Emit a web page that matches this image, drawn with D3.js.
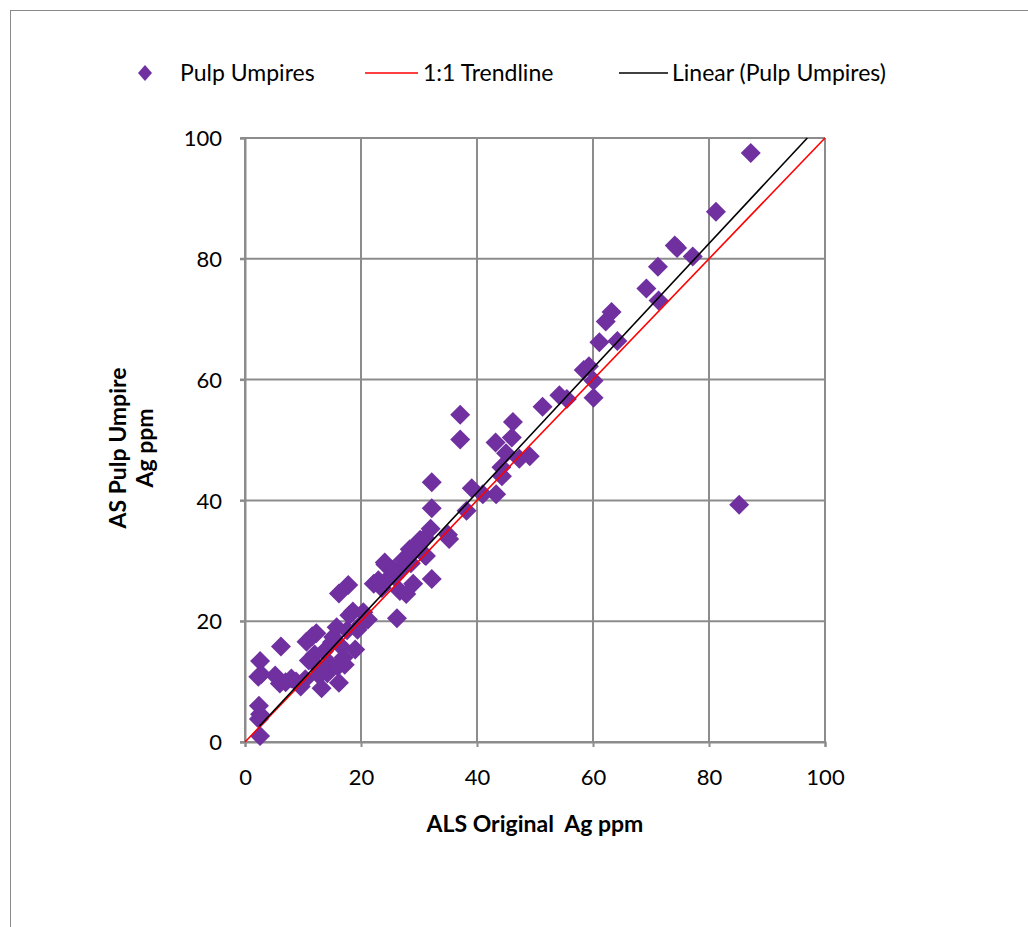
<!DOCTYPE html>
<html>
<head>
<meta charset="utf-8">
<script src="https://cdn.jsdelivr.net/npm/d3@7"></script>
<style>
  body { margin: 0; background: #fff; }
  svg { display: block; font-family: Lato, "Open Sans", sans-serif; }
</style>
</head>
<body>
<div id="chart"></div>
<script>
// ALS original vs pulp umpire Ag ppm
const alsOriginal = [
  2.6, 2.4, 2.6, 2.4, 2.6, 2.3, 2.8, 5.2, 6.2, 6.0, 7.0, 8.0, 8.8, 9.6, 10.4,
  11.0, 10.6, 11.6, 12.3, 12.0, 12.5, 12.8, 13.2, 13.6, 14.2, 14.6, 15.2, 15.8,
  16.0, 16.2, 16.6, 17.0, 17.2, 17.6, 18.0, 18.6, 19.0, 19.4, 20.4, 21.2, 16.2,
  17.8, 22.2, 23.0, 23.6, 24.2, 24.6, 25.2, 25.8, 26.2, 26.7, 27.2, 27.8, 28.0,
  28.6, 29.0, 29.5, 30.2, 31.0, 31.2, 32.0, 32.2, 32.2, 32.2, 35.0, 35.2, 37.1,
  37.1, 38.2, 39.1, 41.0, 43.3, 43.2, 44.2, 44.3, 45.0, 46.0, 46.2, 47.3, 49.1,
  51.3, 54.2, 55.5, 58.4, 59.3, 60.1, 60.1, 61.1, 64.2, 62.2, 63.2, 69.2, 71.3,
  71.2, 74.1, 74.5, 77.2, 81.2, 87.2, 85.2, 24.1, 25.6, 27.3, 28.4, 30.2, 31.0,
  13.0, 15.0, 20.0
];
const pulpUmpire = [
  1.0, 3.8, 4.6, 6.0, 13.4, 10.8, 11.2, 11.0, 15.8, 9.7, 9.9, 10.5, 10.0, 9.2, 10.4,
  13.5, 16.6, 17.5, 18.0, 14.5, 12.5, 11.0, 8.9, 15.0, 11.4, 13.0, 17.4, 19.0,
  12.5, 9.8, 15.8, 14.0, 12.8, 18.5, 21.0, 21.6, 15.3, 18.6, 21.5, 20.3, 24.6,
  26.0, 26.2, 26.8, 25.5, 29.4, 27.0, 28.5, 27.3, 20.5, 25.0, 28.8, 24.5, 30.5,
  29.6, 26.2, 32.0, 33.5, 33.8, 30.8, 35.3, 27.0, 38.7, 43.0, 34.3, 33.6, 54.2,
  50.1, 38.3, 42.0, 41.0, 41.0, 49.6, 45.5, 44.0, 47.8, 50.4, 53.0, 46.9, 47.3,
  55.5, 57.4, 56.8, 61.6, 62.2, 59.8, 57.0, 66.2, 66.4, 69.6, 71.2, 75.1, 73.1,
  78.7, 82.2, 81.8, 80.4, 87.8, 97.5, 39.3, 29.7, 28.6, 30.2, 31.9, 33.3, 30.9,
  11.8, 16.5, 19.5
];
const ticks = [0, 20, 40, 60, 80, 100];
// linear trendline as drawn on the chart
const trendSlope = 1.031;
const trendIntercept = 0.05;
const trendRange = [2.47, 96.95];

const W = 1028, H = 927;
const margin = { left: 245, right: 203, top: 138, bottom: 184 };

const svg = d3.select("#chart").append("svg")
  .attr("width", W).attr("height", H);

// outer chart frame
svg.append("rect")
  .attr("x", 10.5).attr("y", 10.5)
  .attr("width", W + 20).attr("height", H + 20)
  .attr("fill", "none").attr("stroke", "#8a8a8a").attr("stroke-width", 1);

const x = d3.scaleLinear().domain([0, 100]).range([margin.left, W - margin.right]);
const y = d3.scaleLinear().domain([0, 100]).range([H - margin.bottom - 1, margin.top]);

// gridlines
const grid = svg.append("g").attr("stroke", "#8c8c8c").attr("stroke-width", 2);
grid.selectAll(".gx").data(ticks).join("line")
  .attr("x1", d => x(d)).attr("x2", d => x(d))
  .attr("y1", y(0)).attr("y2", y(100));
grid.selectAll(".gy").data(ticks).join("line")
  .attr("x1", x(0) - 5).attr("x2", x(100))
  .attr("y1", d => y(d)).attr("y2", d => y(d));

// axes
const xAxis = svg.append("g")
  .attr("transform", `translate(0,${y(0)})`)
  .call(d3.axisBottom(x).tickValues(ticks).tickSize(5).tickPadding(22));
const yAxis = svg.append("g")
  .attr("transform", `translate(${x(0)},0)`)
  .call(d3.axisLeft(y).tickValues(ticks).tickSize(5).tickPadding(18));
[xAxis, yAxis].forEach(g => {
  g.select(".domain").attr("stroke", "#8c8c8c").attr("stroke-width", 2);
  g.selectAll(".tick line").attr("stroke", "#8c8c8c").attr("stroke-width", 2);
  g.selectAll(".tick text").attr("font-size", 22).attr("fill", "#000")
    .style("font-family", "Lato, 'Open Sans', sans-serif");
});
yAxis.selectAll(".tick text").attr("dy", "0.35em");

const diamond = "M0,-10L10,0L0,10L-10,0Z";
const points = alsOriginal.map((v, i) => ({ x: v, y: pulpUmpire[i] }));

const plot = svg.append("g");
plot.selectAll("path.pt").data(points).join("path")
  .attr("class", "pt")
  .attr("d", diamond)
  .attr("transform", d => `translate(${x(d.x)},${y(d.y)})`)
  .attr("fill", "#7030a0");

// 1:1 line
plot.append("line")
  .attr("x1", x(0)).attr("y1", y(0)).attr("x2", x(100)).attr("y2", y(100))
  .attr("stroke", "#ff0000").attr("stroke-width", 1.6);

// linear trendline
plot.append("line")
  .attr("x1", x(trendRange[0])).attr("y1", y(trendSlope * trendRange[0] + trendIntercept))
  .attr("x2", x(trendRange[1])).attr("y2", y(trendSlope * trendRange[1] + trendIntercept))
  .attr("stroke", "#000").attr("stroke-width", 1.6);

// axis titles
svg.append("text")
  .attr("x", 535).attr("y", 832)
  .attr("text-anchor", "middle")
  .attr("font-size", 23).attr("font-weight", "bold")
  .style("white-space", "pre")
  .text("ALS Original  Ag ppm");

const yTitle = svg.append("text")
  .attr("transform", `translate(126,448) rotate(-90)`)
  .attr("text-anchor", "middle")
  .attr("font-size", 23).attr("font-weight", "bold");
yTitle.append("tspan").attr("x", 0).attr("dy", 0).text("AS Pulp Umpire");
yTitle.append("tspan").attr("x", 0).attr("dy", 27).text("Ag ppm");

// legend
const legend = svg.append("g").attr("font-size", 23);
legend.append("path").attr("d", "M0,-8L7,0L0,8L-7,0Z")
  .attr("transform", "translate(145,73)").attr("fill", "#7030a0");
legend.append("text").attr("x", 180).attr("y", 81).text("Pulp Umpires");
legend.append("line").attr("x1", 365).attr("x2", 418).attr("y1", 73).attr("y2", 73)
  .attr("stroke", "#ff0000").attr("stroke-width", 1.6);
legend.append("text").attr("x", 423).attr("y", 81).text("1:1 Trendline");
legend.append("line").attr("x1", 619).attr("x2", 668).attr("y1", 73).attr("y2", 73)
  .attr("stroke", "#000").attr("stroke-width", 1.6);
legend.append("text").attr("x", 672).attr("y", 81).text("Linear (Pulp Umpires)");
</script>
</body>
</html>
